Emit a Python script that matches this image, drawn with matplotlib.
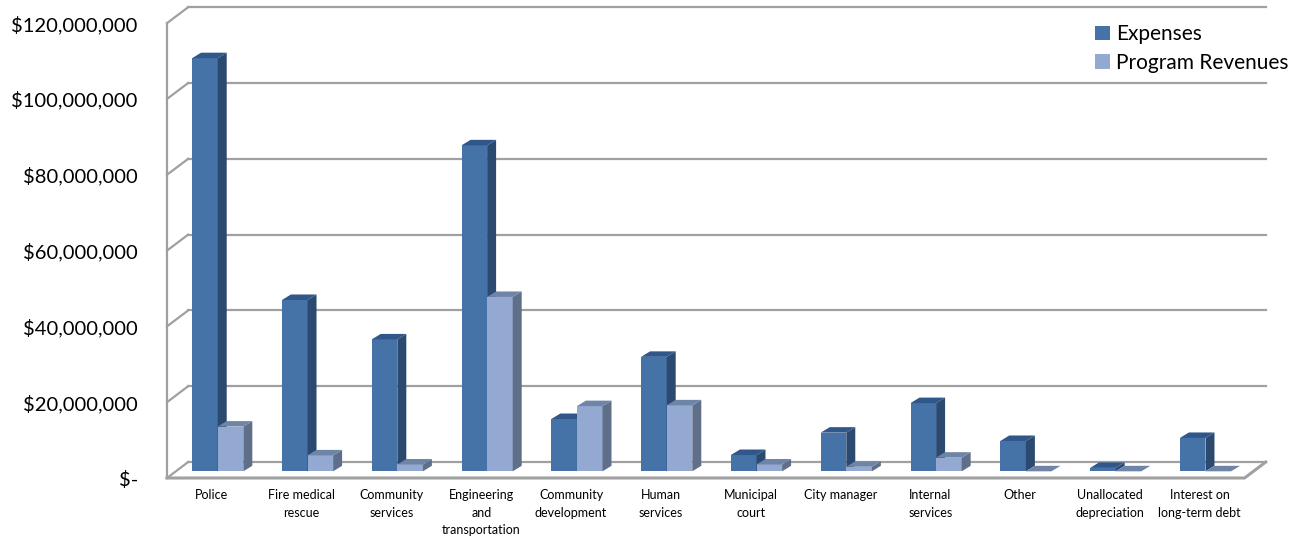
"""
Expenses vs program revenues by function, drawn as an Excel-style 3-D column chart.
"""

import matplotlib.pyplot as plt
from matplotlib.patches import Patch, Polygon
from matplotlib.ticker import FuncFormatter

categories = ["Police", "Fire medical\nrescue", "Community\nservices",
              "Engineering\nand\ntransportation", "Community\ndevelopment",
              "Human\nservices", "Municipal\ncourt", "City manager",
              "Internal\nservices", "Other", "Unallocated\ndepreciation",
              "Interest on\nlong-term debt"]
expenses = [109.0e6, 45.2e6, 34.8e6, 86.0e6, 13.8e6, 30.2e6,
            4.3e6, 10.2e6, 18.0e6, 8.0e6, 0.9e6, 8.8e6]
revenues = [11.8e6, 4.2e6, 1.8e6, 46.0e6, 17.2e6, 17.4e6,
            1.8e6, 1.2e6, 3.6e6, 0.0, 0.0, 0.0]
series_names = ["Expenses", "Program Revenues"]
y_ticks = [0, 20e6, 40e6, 60e6, 80e6, 100e6, 120e6]

# colours: front, side, top
exp_colors = ("#4572a7", "#2c4a70", "#30568a")
rev_colors = ("#94a9d1", "#5f6f8a", "#6f85a8")
grid_color = "#a0a0a0"

plt.rcParams["font.family"] = ["Lato", "DejaVu Sans"]

W, H = 1298, 540
fig = plt.figure(figsize=(W / 100, H / 100), dpi=100)
ax = fig.add_axes([167 / W, (H - 478) / H, (1267 - 167) / W, (478 - 8) / H])

x_lo, x_hi = -0.5, 11.75
y_top = 124e6
ax.set_xlim(x_lo, x_hi)
ax.set_ylim(0, y_top)

# depth of the walls / floor and of a single bar
wall_dx, wall_dy = 0.235, 4.2e6
bar_dx, bar_dy = 0.10, 1.45e6
bar_w = 0.285
floor_mid = wall_dy * 0.42
floor_right = 11.5

# walls and floor
for v in y_ticks:
    ax.plot([x_lo, x_lo + wall_dx], [v, v + wall_dy], color=grid_color,
            lw=1.6, clip_on=False, zorder=1)
    ax.plot([x_lo + wall_dx, floor_right + wall_dx], [v + wall_dy, v + wall_dy],
            color=grid_color, lw=1.6, clip_on=False, zorder=1)
ax.plot([x_lo, x_lo], [0, y_ticks[-1]], color=grid_color, lw=1.6,
        clip_on=False, zorder=1)
ax.plot([x_lo, floor_right, floor_right + wall_dx], [0, 0, wall_dy],
        color=grid_color, lw=2.2, clip_on=False, zorder=1)


def draw_bar(x0, value, colors):
    base = floor_mid
    top = base + value
    ax.bar(x0, value, width=bar_w, bottom=base, align="edge",
           color=colors[0], edgecolor="none", zorder=3)
    side = [(x0 + bar_w, base), (x0 + bar_w + bar_dx, base + bar_dy),
            (x0 + bar_w + bar_dx, top + bar_dy), (x0 + bar_w, top)]
    roof = [(x0, top), (x0 + bar_w, top), (x0 + bar_w + bar_dx, top + bar_dy),
            (x0 + bar_dx, top + bar_dy)]
    ax.add_patch(Polygon(side, closed=True, facecolor=colors[1],
                         edgecolor="none", zorder=3))
    ax.add_patch(Polygon(roof, closed=True, facecolor=colors[2],
                         edgecolor="none", zorder=3))


for i in range(len(categories)):
    draw_bar(i - 0.22, expenses[i], exp_colors)
    draw_bar(i - 0.22 + bar_w, revenues[i], rev_colors)

for side in ["left", "right", "top", "bottom"]:
    ax.spines[side].set_visible(False)

ax.set_yticks(y_ticks)
ax.yaxis.set_major_formatter(
    FuncFormatter(lambda v, _: "$-" if v == 0 else f"${v:,.0f}"))
ax.tick_params(axis="y", length=0, pad=21, labelsize=14.5, colors="#000000")

ax.set_xticks(range(len(categories)))
ax.set_xticklabels(categories, fontsize=9, linespacing=1.55)
ax.tick_params(axis="x", length=0, pad=8)

handles = [Patch(facecolor=exp_colors[0]), Patch(facecolor=rev_colors[0])]
fig.legend(handles, series_names, loc="upper left",
           bbox_to_anchor=(1087 / W, 1 - 16 / H), frameon=False, fontsize=15,
           handlelength=0.7, handleheight=0.7, handletextpad=0.3,
           labelspacing=0.42, borderaxespad=0)

fig.savefig("out.png", dpi=100, facecolor="white")
